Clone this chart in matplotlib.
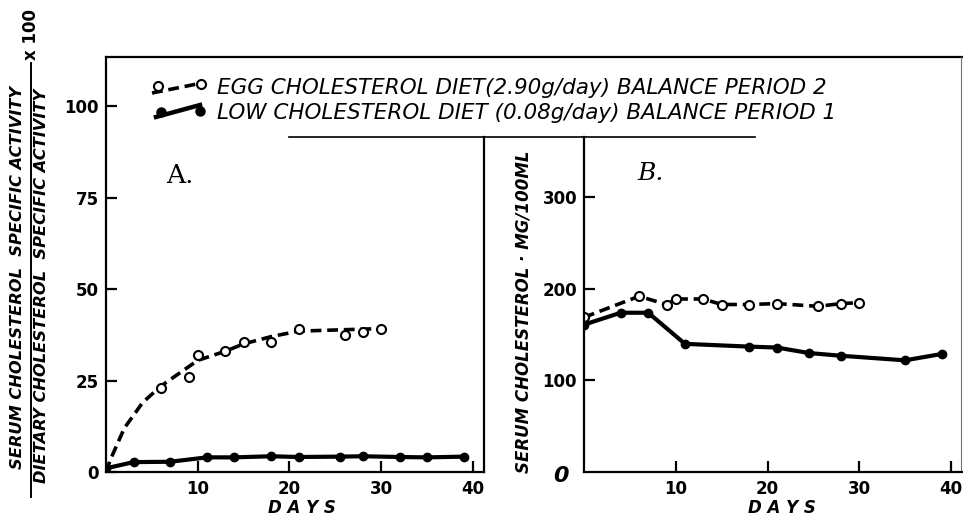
import matplotlib
matplotlib.use("Agg")
import matplotlib.pyplot as plt
from matplotlib.lines import Line2D

# ---- data ----
# panel A: specific activity ratio x 100
a_egg_days = [6, 9, 10, 13, 15, 18, 21, 26, 28, 30]
a_egg_vals = [23, 26, 32, 33, 35.5, 35.5, 39, 37.5, 38.3, 39]
# the dashed smooth curve drawn through the egg points
a_egg_curve_days = [0, 0.5, 2, 4, 6, 8, 10, 13, 15, 18, 21, 25, 30]
a_egg_curve_vals = [0, 3.5, 12, 19, 23.5, 27, 30.5, 33, 35, 37, 38.5, 38.8, 39.2]
a_low_days = [0, 3, 7, 11, 14, 18, 21, 25.5, 28, 32, 35, 39]
a_low_vals = [1, 2.7, 2.8, 4.0, 4.0, 4.3, 4.1, 4.2, 4.3, 4.1, 4.0, 4.2]

# panel B: serum cholesterol mg/100ml
b_egg_days = [0, 6, 9, 10, 13, 15, 18, 21, 25.5, 28, 30]
b_egg_vals = [169, 192, 183, 189, 189, 183, 183, 184, 181, 184, 185]
b_low_days = [0, 4, 7, 11, 18, 21, 24.5, 28, 35, 39]
b_low_vals = [161, 174, 174, 140, 137, 136, 130, 127, 122, 129]

a_yticks = [0, 25, 50, 75, 100]
b_yticks = [100, 200, 300]
x_ticks = [10, 20, 30, 40]

legend_egg = "EGG CHOLESTEROL DIET(2.90g/day) BALANCE PERIOD 2"
legend_low = "LOW CHOLESTEROL DIET (0.08g/day) BALANCE PERIOD 1"

W, H = 963, 516
fig = plt.figure(figsize=(W / 100, H / 100), dpi=100)


def px(x, y):
    # pixel position (from top left) -> figure fraction
    return x / W, 1 - y / H


def add_axes_px(left, top, right, bottom):
    return fig.add_axes([left / W, 1 - bottom / H, (right - left) / W, (bottom - top) / H])


def fig_line(x0, y0, x1, y1, lw=1.5, color="black", **kw):
    a, b = px(x0, y0)
    c, d = px(x1, y1)
    fig.add_artist(Line2D([a, c], [b, d], lw=lw, color=color, transform=fig.transFigure, **kw))


def style_axes(ax):
    for s in ["top", "right"]:
        ax.spines[s].set_visible(False)
    for s in ["left", "bottom"]:
        ax.spines[s].set_linewidth(1.6)
    ax.tick_params(direction="in", length=8, width=1.6, labelsize=12, pad=5)
    ax.patch.set_alpha(0)


# ---- panel A ----
axA = add_axes_px(106, 57, 484, 472)
axA.set_xlim(0, 41.2)
axA.set_ylim(0, 113.4)
style_axes(axA)
axA.plot(a_egg_curve_days, a_egg_curve_vals, color="black", lw=2.6, dashes=(3, 1.6))
axA.plot(a_egg_days, a_egg_vals, "o", ms=6.5, mfc="white", mec="black", mew=1.5)
axA.plot(a_low_days, a_low_vals, "-o", color="black", lw=3, ms=6)
axA.set_xticks(x_ticks)
axA.set_yticks(a_yticks)
axA.set_xticklabels([str(t) for t in x_ticks], fontweight="bold")
axA.set_yticklabels([str(t) for t in a_yticks], fontweight="bold")
axA.tick_params(axis="x", pad=6)

# ---- panel B ----
axB = add_axes_px(584, 137, 963, 472)
axB.set_xlim(0, 41.3)
axB.set_ylim(0, 366)
style_axes(axB)
axB.plot(b_egg_days, b_egg_vals, "--o", color="black", lw=2.6, dashes=(3, 1.6),
         ms=6.5, mfc="white", mec="black", mew=1.5)
axB.plot(b_low_days, b_low_vals, "-o", color="black", lw=3, ms=6)
axB.set_xticks(x_ticks)
axB.set_yticks(b_yticks)
axB.set_xticklabels([str(t) for t in x_ticks], fontweight="bold")
axB.set_yticklabels([str(t) for t in b_yticks], fontweight="bold")
axB.tick_params(axis="x", pad=6)

# ---- frame lines ----
fig_line(106, 57, 963, 57, lw=1.6)
fig_line(484, 137, 484, 472, lw=1.6)
fig_line(289, 137, 755, 137, lw=1.2)
fig_line(961, 57, 961, 470, lw=0.8, color="0.45")

# ---- legend ----
fig_line(152, 93, 202, 83, lw=2.6, dashes=(3, 1.6))
for x, y in [(158, 86), (201, 84)]:
    a, b = px(x, y)
    fig.add_artist(Line2D([a], [b], marker="o", ms=6.5, mfc="white", mec="black", mew=1.5,
                          transform=fig.transFigure))
fig_line(156, 117, 200, 105, lw=3.2)
for x, y in [(161, 112), (200, 111)]:
    a, b = px(x, y)
    fig.add_artist(Line2D([a], [b], marker="o", ms=6.5, color="black",
                          transform=fig.transFigure))
fig.text(*px(217, 88), legend_egg, fontsize=15.5, style="italic", va="center", ha="left")
fig.text(*px(217, 113), legend_low, fontsize=15.5, style="italic", va="center", ha="left")

# ---- panel letters ----
fig.text(*px(166, 176), "A.", fontsize=19, family="DejaVu Serif", va="center", ha="left")
fig.text(*px(637, 174), "B.", fontsize=18, family="DejaVu Serif", style="italic",
         va="center", ha="left")

# ---- axis labels ----
fig.text(*px(18, 277), "SERUM CHOLESTEROL  SPECIFIC ACTIVITY", rotation=90, fontsize=11.7,
         fontweight="bold", style="italic", va="center", ha="center")
fig.text(*px(42, 286), "DIETARY CHOLESTEROL  SPECIFIC ACTIVITY", rotation=90, fontsize=11.7,
         fontweight="bold", style="italic", va="center", ha="center")
fig_line(31, 63, 31, 497, lw=1.4)
fig.text(*px(31, 34), "x 100", rotation=90, fontsize=12, fontweight="bold",
         va="center", ha="center")
fig.text(*px(523, 312), "SERUM CHOLESTEROL · MG/100ML", rotation=90, fontsize=12,
         fontweight="bold", style="italic", va="center", ha="center")
fig.text(*px(302, 508), "D A Y S", fontsize=12, style="italic", fontweight="bold",
         va="center", ha="center")
fig.text(*px(782, 508), "D A Y S", fontsize=12, style="italic", fontweight="bold",
         va="center", ha="center")
fig.text(*px(561, 476), "0", fontsize=16, style="italic", fontweight="bold",
         va="center", ha="center")

fig.savefig("out.png", dpi=100)
